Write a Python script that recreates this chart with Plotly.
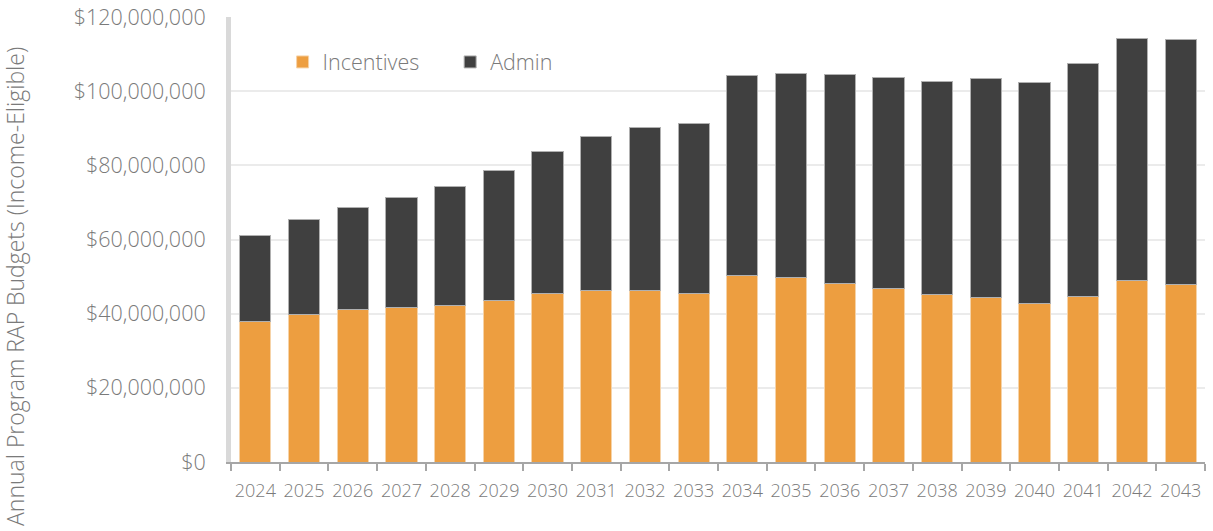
import plotly.graph_objects as go

years = [str(y) for y in range(2024, 2044)]
incentives = [38.0, 39.8, 41.0, 41.6, 42.3, 43.6, 45.4, 46.3, 46.3, 45.5,
              50.4, 49.7, 48.1, 46.7, 45.3, 44.3, 42.8, 44.5, 48.9, 47.8]
totals = [61.0, 65.3, 68.6, 71.4, 74.3, 78.6, 83.6, 87.7, 90.3, 91.3,
          104.1, 104.9, 104.6, 103.8, 102.7, 103.4, 102.4, 107.5, 114.2, 113.8]
incentives_usd = [v * 1e6 for v in incentives]
admin_usd = [(t - i) * 1e6 for t, i in zip(totals, incentives)]

y_ticks = [0, 20e6, 40e6, 60e6, 80e6, 100e6, 120e6]
y_tick_labels = ["$0", "$20,000,000", "$40,000,000", "$60,000,000",
                 "$80,000,000", "$100,000,000", "$120,000,000"]

FONT = "Open Sans"
GRAY = "#7a7a7a"

fig = go.Figure()
fig.add_trace(go.Bar(
    x=years, y=incentives_usd, name="Incentives",
    marker=dict(color="#ED9E40", line=dict(color="#F6D3A8", width=1)),
    legend="legend",
))
fig.add_trace(go.Bar(
    x=years, y=admin_usd, name="Admin",
    marker=dict(color="#404040", line=dict(color="#B0B0B0", width=1)),
    legend="legend2",
))

fig.update_layout(
    width=1213, height=531,
    barmode="stack", bargap=0.36,
    plot_bgcolor="white", paper_bgcolor="white",
    margin=dict(l=231, r=8, t=17, b=69),
    font=dict(family=FONT, color=GRAY, weight=300),
    legend=dict(orientation="h", x=0.053, y=0.899, xanchor="left", yanchor="middle",
                font=dict(size=21.5, color=GRAY, family=FONT, weight=300),
                bgcolor="rgba(0,0,0,0)"),
    legend2=dict(orientation="h", x=0.225, y=0.899, xanchor="left", yanchor="middle",
                 font=dict(size=21.5, color=GRAY, family=FONT, weight=300),
                 bgcolor="rgba(0,0,0,0)"),
    showlegend=True,
    annotations=[dict(
        text="Annual Program RAP Budgets (Income-Eligible)",
        xref="paper", yref="paper", x=-0.222, y=0.395, xanchor="center", yanchor="middle",
        textangle=-90, showarrow=False,
        font=dict(size=23, color=GRAY, family=FONT, weight=300),
    )],
)
fig.update_xaxes(
    type="category", showline=True, linecolor="#A6A6A6", linewidth=2,
    ticks="outside", tickson="boundaries", ticklen=7, tickcolor="#A6A6A6", tickwidth=2,
    tickfont=dict(size=18, color=GRAY, family=FONT, weight=300), showgrid=False,
    tickangle=0, automargin=False, ticklabelstandoff=11,
)
fig.update_yaxes(
    range=[0, 120e6], tickvals=y_ticks, ticktext=y_tick_labels,
    showgrid=True, gridcolor="#EBEBEB", gridwidth=2,
    showline=True, linecolor="#D9D9D9", linewidth=5,
    tickfont=dict(size=21.5, color=GRAY, family=FONT, weight=300), ticks="",
    ticklabelstandoff=16, zeroline=False, automargin=False,
)

fig.write_html("out.html", config={"displayModeBar": False},
               post_script="document.body.style.margin='0';")
